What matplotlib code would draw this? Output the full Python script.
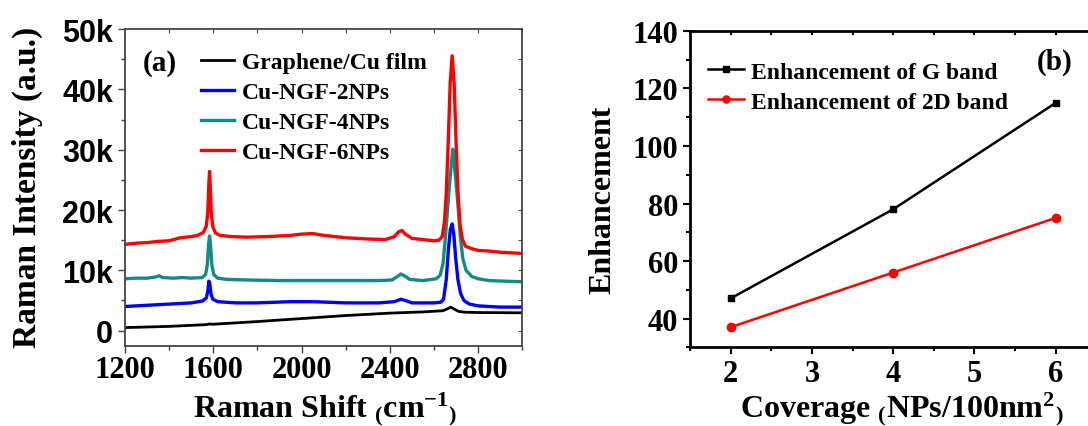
import numpy as np
import matplotlib
matplotlib.use("Agg")
import matplotlib.pyplot as plt
from matplotlib.ticker import MultipleLocator

plt.rcParams['font.family'] = 'Liberation Serif'
plt.rcParams['font.weight'] = 'bold'
plt.rcParams['mathtext.fontset'] = 'custom'
plt.rcParams['mathtext.rm'] = 'Liberation Serif:bold'
plt.rcParams['mathtext.it'] = 'Liberation Serif:bold'
plt.rcParams['mathtext.bf'] = 'Liberation Serif:bold'

# ---- panel (a): Raman spectra (intensity in k counts) ----
shift_black = [1200, 1400, 1570, 1582, 1595, 1800, 2000, 2200, 2400, 2550,
               2640, 2660, 2675, 2690, 2710, 2740, 2800, 3000]
int_black = [0.5, 0.7, 1.0, 1.1, 1.05, 1.5, 2.0, 2.5, 2.9, 3.1,
             3.3, 3.6, 3.9, 3.6, 3.2, 3.05, 3.0, 2.95]

shift_blue = [1200, 1250, 1300, 1400, 1500, 1550, 1568, 1575, 1580, 1584,
              1590, 1598, 1620, 1700, 1800, 1950, 2050, 2200, 2350, 2420,
              2450, 2470, 2500, 2550, 2600, 2630, 2643, 2655, 2665, 2674,
              2682, 2690, 2698, 2708, 2720, 2735, 2760, 2800, 2900, 3000]
int_blue = [4.0, 4.1, 4.2, 4.4, 4.6, 4.9, 5.4, 6.5, 8.2, 7.8,
            6.0, 5.2, 4.8, 4.6, 4.6, 4.8, 4.8, 4.6, 4.6, 4.8,
            5.2, 5.0, 4.6, 4.6, 4.6, 4.7, 5.2, 8.4, 13.5, 16.8,
            17.7, 15.8, 12.0, 8.5, 6.2, 5.0, 4.4, 4.1, 3.9, 3.9]

shift_teal = [1200, 1250, 1300, 1340, 1355, 1370, 1420, 1460, 1500, 1550,
              1565, 1573, 1579, 1583, 1587, 1593, 1602, 1620, 1660, 1750,
              1900, 2050, 2200, 2350, 2410, 2435, 2450, 2465, 2490, 2550,
              2610, 2628, 2641, 2652, 2663, 2673, 2680, 2685, 2690, 2697,
              2707, 2718, 2730, 2745, 2770, 2800, 2850, 2920, 3000]
int_teal = [8.6, 8.7, 8.7, 8.9, 9.1, 8.8, 8.7, 8.8, 8.7, 8.8,
            9.3, 11.0, 14.5, 15.7, 14.5, 11.0, 9.3, 8.7, 8.5, 8.4,
            8.3, 8.3, 8.3, 8.3, 8.4, 9.0, 9.4, 9.1, 8.5, 8.3,
            8.6, 9.2, 11.2, 15.8, 21.0, 25.5, 28.3, 30.1, 28.3, 25.5,
            21.5, 16.0, 12.0, 10.0, 9.0, 8.6, 8.3, 8.2, 8.1]

shift_red = [1200, 1250, 1300, 1350, 1400, 1450, 1500, 1530, 1555, 1568,
             1575, 1580, 1583, 1586, 1591, 1598, 1610, 1630, 1680, 1750,
             1850, 1950, 2000, 2050, 2100, 2150, 2200, 2300, 2380, 2420,
             2440, 2455, 2470, 2500, 2550, 2600, 2622, 2637, 2647, 2655,
             2664, 2673, 2682, 2691, 2700, 2709, 2718, 2728, 2742, 2770,
             2800, 2850, 2900, 2950, 3000]
int_red = [14.3, 14.5, 14.6, 14.8, 14.9, 15.4, 15.6, 15.8, 16.3, 17.3,
           19.5, 24.5, 26.4, 24.0, 19.5, 17.2, 16.2, 15.8, 15.6, 15.5,
           15.6, 15.8, 16.0, 16.1, 15.8, 15.6, 15.4, 15.2, 15.1, 15.6,
           16.4, 16.6, 16.0, 15.3, 15.1, 14.9, 15.0, 15.6, 18.0, 22.5,
           31.0, 41.0, 45.6, 41.0, 31.0, 22.5, 17.5, 15.2, 14.0, 13.6,
           13.3, 13.2, 13.0, 12.9, 12.8]

spec_labels = ['Graphene/Cu film', 'Cu-NGF-2NPs', 'Cu-NGF-4NPs', 'Cu-NGF-6NPs']
spec_colors = ['black', '#0000ff', '#148a86', '#ff0000']

# ---- panel (b): enhancement vs coverage ----
coverage = [2, 4, 6]
enh_G = [47, 78, 115]
enh_2D = [37, 56, 75]

fig = plt.figure(figsize=(10.88, 4.27), dpi=100)
ax1 = fig.add_axes([0.1149, 0.1881, 0.3652, 0.7412])
ax2 = fig.add_axes([0.6342, 0.1843, 0.3735, 0.7408])

series = [(shift_black, int_black), (shift_blue, int_blue),
          (shift_teal, int_teal), (shift_red, int_red)]
for (sx, sy), lab, col in zip(series, spec_labels, spec_colors):
    ax1.plot(sx, sy, color=col, lw=2.0 if col == 'black' else 2.4, label=lab)

ax1.set_xlim(1200, 3000)
ax1.set_ylim(-2.5, 50)
ax1.set_xticks([1200, 1600, 2000, 2400, 2800])
ax1.xaxis.set_minor_locator(MultipleLocator(200))
ax1.set_yticks(range(0, 51, 10))
ax1.set_yticklabels(['0'] + ['%dk' % v for v in range(10, 51, 10)],
                    family='Liberation Sans', weight='bold', fontsize=22)
ax1.yaxis.set_minor_locator(MultipleLocator(5))
ax1.tick_params(axis='x', labelsize=22, pad=2)
ax1.tick_params(which='major', direction='out', length=5, width=1, color='#444444')
ax1.tick_params(which='minor', direction='out', length=3, width=1, color='#444444')
for sp in ax1.spines.values():
    sp.set_linewidth(1.3)
    sp.set_color('#444444')
sec = ax1.secondary_xaxis('top')
sec.set_xticks(np.arange(1200, 3001, 200))
sec.tick_params(direction='in', length=3, labeltop=False, color='#444444')
sec.spines['top'].set_visible(False)
sec2 = ax1.secondary_yaxis('right')
sec2.set_yticks(np.arange(0, 51, 5))
sec2.tick_params(direction='in', length=3, labelright=False, color='#444444')
sec2.spines['right'].set_visible(False)

ax1.legend(loc='upper left', bbox_to_anchor=(0.19, 0.93), frameon=False,
           fontsize=17, handlelength=1.4, handletextpad=0.35,
           labelspacing=0.36, borderpad=0, borderaxespad=0)
ax1.text(0.045, 0.896, '(a)', transform=ax1.transAxes, fontsize=21,
         va='center', ha='left')

# panel (b)
ax2.plot(coverage, enh_G, color='black', lw=1.8, marker='s', ms=5,
         label='Enhancement of G band')
ax2.plot(coverage, enh_2D, color='#ff0000', lw=1.8, marker='o', ms=6,
         label='Enhancement of 2D band')
ax2.set_xlim(1.5, 6.5)
ax2.set_ylim(30, 140)
ax2.set_xticks([2, 3, 4, 5, 6])
ax2.xaxis.set_minor_locator(MultipleLocator(0.5))
ax2.set_yticks(range(40, 141, 20))
ax2.yaxis.set_minor_locator(MultipleLocator(10))
ax2.tick_params(labelsize=22)
ax2.tick_params(which='major', direction='out', length=5, width=1.5)
ax2.tick_params(which='minor', direction='out', length=3, width=1.5)
for sp in ax2.spines.values():
    sp.set_linewidth(2.0)
sec3 = ax2.secondary_xaxis('top')
sec3.xaxis.set_major_locator(MultipleLocator(0.5))
sec3.tick_params(direction='in', length=3, width=1.5, labeltop=False)
sec3.spines['top'].set_visible(False)

ax2.legend(loc='upper left', bbox_to_anchor=(0.045, 0.905), frameon=False,
           fontsize=17, handlelength=1.5, handletextpad=0.3, markerscale=0.85,
           labelspacing=0.36, borderpad=0, borderaxespad=0)
ax2.text(0.854, 0.905, '(b)', transform=ax2.transAxes, fontsize=21,
         va='center', ha='left')

# axis titles
fig.text(193 / 1088, 10 / 427, r'Raman Shift $_{(}\mathrm{cm}^{-1}{}_{)}$',
         fontsize=23, ha='left', va='baseline')
fig.text(0.0253, 0.561, 'Raman Intensity (a.u.)', fontsize=24,
         rotation=90, ha='center', va='center')
fig.text(740 / 1088, 10 / 427, r'Coverage $_{(}\mathrm{NPs/100nm}^{2}{}_{)}$',
         fontsize=23, ha='left', va='baseline')
fig.text(0.5542, 0.5316, 'Enhancement', fontsize=23,
         rotation=90, ha='center', va='center')

fig.savefig('out.png', dpi=100)
